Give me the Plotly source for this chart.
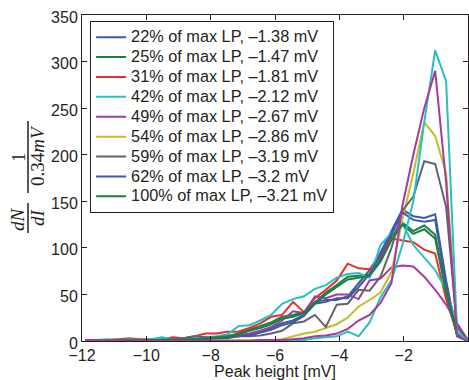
import plotly.graph_objects as go

# Bin centres (mV), ascending
peak_height = [-11.90, -11.56, -11.22, -10.88, -10.54, -10.20, -9.86, -9.52, -9.18, -8.84,
               -8.50, -8.16, -7.82, -7.48, -7.14, -6.80, -6.46, -6.12, -5.78, -5.44,
               -5.10, -4.76, -4.42, -4.08, -3.74, -3.40, -3.06, -2.72, -2.38, -2.04,
               -1.70, -1.36, -1.02, -0.68, -0.34, 0.00]

# Values listed from x = 0 going left (k = 0..35); reversed below to match peak_height
blue_22 = [0, 6, 65, 136, 132, 134, 141, 118, 95, 76, 62, 48, 44, 44, 42, 28, 22, 19, 14, 10,
           7, 5, 4, 3, 2, 2, 1, 1, 1, 1, 0, 0, 0, 0, 0, 0]
green_25 = [1, 8, 55, 114, 124, 118, 127, 112, 87, 71, 70, 69, 60, 52, 42, 31, 28, 26, 20, 16,
            12, 8, 5, 4, 3, 2, 2, 1, 1, 1, 1, 1, 0, 0, 0, 0]
red_31 = [1, 8, 45, 94, 98, 106, 108, 110, 90, 77, 78, 83, 65, 55, 46, 31, 42, 28, 26, 19,
          14, 10, 10, 8, 8, 5, 3, 4, 2, 2, 2, 3, 2, 1, 1, 1]
cyan_42 = [0, 18, 55, 76, 90, 103, 126, 116, 103, 68, 73, 72, 68, 60, 56, 48, 45, 40, 28, 22,
           17, 16, 7, 5, 4, 5, 3, 2, 4, 2, 1, 2, 1, 2, 1, 1]
magenta_49 = [1, 19, 39, 55, 69, 80, 81, 79, 67, 65, 45, 50, 50, 46, 48, 30, 32, 22, 15, 11,
              8, 6, 4, 3, 2, 2, 1, 1, 1, 1, 1, 1, 1, 0, 1, 1]
yellow_54 = [0, 10, 180, 220, 235, 180, 130, 74, 52, 44, 37, 25, 18, 14, 10, 8, 5, 2, 1, 1,
             1, 1, 1, 1, 0, 1, 1, 0, 0, 0, 0, 0, 0, 0, 0, 0]
gray_59 = [0, 15, 144, 190, 193, 155, 140, 100, 69, 54, 55, 40, 39, 15, 28, 21, 19, 11, 8, 6,
           5, 5, 4, 3, 4, 5, 3, 2, 1, 1, 1, 1, 1, 1, 0, 0]
blue_62 = [0, 5, 60, 130, 128, 130, 138, 115, 92, 72, 58, 46, 46, 42, 40, 27, 20, 17, 12, 9,
           6, 5, 3, 3, 2, 1, 1, 1, 0, 1, 0, 0, 0, 0, 0, 0]
green_100 = [1, 7, 52, 110, 120, 115, 125, 108, 85, 70, 68, 66, 58, 50, 40, 30, 26, 24, 18, 14,
             11, 7, 5, 4, 3, 2, 1, 1, 1, 1, 0, 1, 0, 0, 0, 0]
cyan_extra = [0, 10, 279, 312, 235, 150, 103, 65, 47, 20, 5, 10, 5, 4, 3, 1, 1, 1, 0, 0,
              0, 0, 0, 0, 0, 0, 0, 0, 0, 0, 0, 0, 0, 0, 0, 0]
magenta_extra = [0, 5, 170, 290, 250, 200, 145, 62, 41, 28, 22, 13, 8, 6, 5, 3, 2, 1, 1, 1,
                 0, 0, 0, 0, 0, 0, 0, 0, 0, 0, 0, 0, 0, 0, 0, 0]

legend_labels = ["22% of max LP, –1.38 mV", "25% of max LP, –1.47 mV",
                 "31% of max LP, –1.81 mV", "42% of max LP, –2.12 mV",
                 "49% of max LP, –2.67 mV", "54% of max LP, –2.86 mV",
                 "59% of max LP, –3.19 mV", "62% of max LP, –3.2 mV",
                 "100% of max LP, –3.21 mV"]

BLUE, GREEN, RED, CYAN = "#3d5aa8", "#178042", "#ee2a2a", "#27c0c0"
MAGENTA, YELLOW, GRAY = "#a63b9b", "#bfbf2a", "#66606a"

series = [
    (blue_22, BLUE, legend_labels[0]),
    (green_25, GREEN, legend_labels[1]),
    (red_31, RED, legend_labels[2]),
    (cyan_42, CYAN, legend_labels[3]),
    (magenta_49, MAGENTA, legend_labels[4]),
    (yellow_54, YELLOW, legend_labels[5]),
    (gray_59, GRAY, legend_labels[6]),
    (blue_62, BLUE, legend_labels[7]),
    (green_100, GREEN, legend_labels[8]),
    (cyan_extra, CYAN, None),
    (magenta_extra, MAGENTA, None),
]

fig = go.Figure()
for vals, col, label in series:
    fig.add_trace(go.Scatter(
        x=peak_height, y=vals[::-1], mode="lines",
        line=dict(color=col, width=2),
        name=('<span style="font-size:16.3px">%s</span>' % label) if label else "",
        showlegend=label is not None,
    ))

AX = "#231f20"
axis_common = dict(showline=True, linecolor=AX, linewidth=1, mirror="ticks",
                   ticks="inside", ticklen=5, tickcolor=AX, tickwidth=1,
                   showgrid=False, zeroline=False,
                   tickfont=dict(family="Liberation Sans, Arial", size=16, color="#231f20"))

fig.update_layout(
    width=469, height=380,
    margin=dict(l=82, r=1, t=15, b=39),
    paper_bgcolor="white", plot_bgcolor="white",
    font=dict(family="Liberation Sans, Arial", color="#231f20"),
    xaxis=dict(range=[-12, 0], tickvals=[-12, -10, -8, -6, -4, -2, 0],
               title=dict(text="Peak height [mV]", font=dict(size=16), standoff=2),
               **axis_common),
    yaxis=dict(range=[0, 350], tickvals=[0, 50, 100, 150, 200, 250, 300, 350],
               ticklabelshift=2, **axis_common),
    legend=dict(x=0.021, y=0.981, xanchor="left", yanchor="top",
                bgcolor="white", bordercolor="#231f20", borderwidth=1,
                font=dict(size=13, color="#231f20"), tracegroupgap=0),
    showlegend=True,
)

# y-axis label: (dN/dI) * 1/(0.34 mV) as stacked fractions
def px_x(p):
    return (p - 82) / 386.0

def px_y(p):
    return (341 - p) / 326.0

mfont = dict(family="Liberation Serif, DejaVu Serif", size=19, color="#231f20")
for txt, xp, yp in [("<i>dN</i>", 18, 219), ("<i>dI</i>", 37, 217),
                    ("1", 18, 157), ("0.34<i>mV</i>", 38, 156)]:
    fig.add_annotation(text=txt, xref="paper", yref="paper", x=px_x(xp), y=px_y(yp),
                       xanchor="center", yanchor="middle", textangle=-90,
                       showarrow=False, font=mfont)
for y0, y1 in [(203, 233), (121, 193)]:
    fig.add_shape(type="line", xref="paper", yref="paper",
                  x0=px_x(28), x1=px_x(28), y0=px_y(y1), y1=px_y(y0),
                  line=dict(color="#231f20", width=1.5))

fig.write_html("out.html", config={"displayModeBar": False},
               post_script="document.body.style.margin='0';document.body.style.overflow='hidden';")
